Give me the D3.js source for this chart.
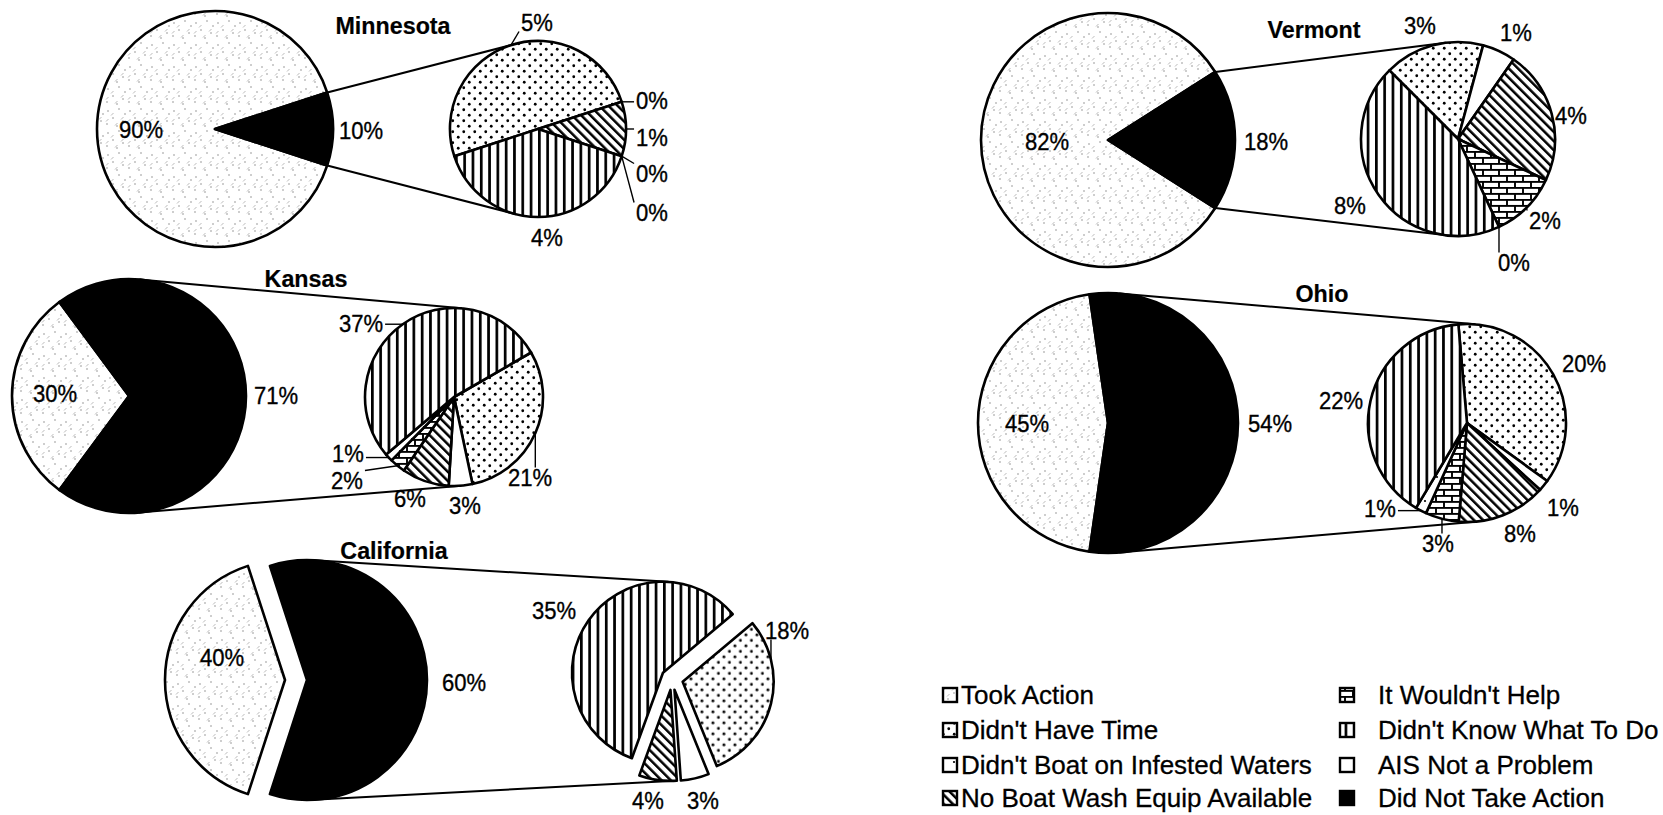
<!DOCTYPE html>
<html><head><meta charset="utf-8">
<script src="https://cdn.jsdelivr.net/npm/d3@7"></script>
<style>
html,body{margin:0;padding:0;background:#fff;}
svg{display:block;font-family:"Liberation Sans", Arial, Helvetica, sans-serif;}
</style></head><body>
<svg id="chart" width="1663" height="815"></svg>
<script>
// Boater responses by state, percent of respondents
const states           = ["Minnesota", "Kansas", "California", "Vermont", "Ohio"];
const tookAction       = [90, 30, 40, 82, 45];
const didNotTakeAction = [10, 71, 60, 18, 54];
// Reasons given by those who did not take action (percent of all respondents)
const didntHaveTime    = [5, 21, 18, 3, 20];
const aisNotProblem    = [0, 3, 3, 1, 1];
const noBoatWash       = [1, 6, 4, 4, 8];
const wouldntHelp      = [0, 2, null, 2, 3];
const didntBoat        = [0, 1, null, 0, 1];
const didntKnow        = [4, 37, 35, 8, 22];

const legendLabels = ["Took Action", "Didn't Have Time", "Didn't Boat on Infested Waters",
  "No Boat Wash Equip Available", "It Wouldn't Help", "Didn't Know What To Do",
  "AIS Not a Problem", "Did Not Take Action"];
const legendKeys = ["took", "time", "boat", "wash", "help", "know", "ais", "not"];

// order of the reasons inside each detail pie
const reasonKeys = ["time", "ais", "wash", "help", "boat", "know"];
const reasonSeries = [didntHaveTime, aisNotProblem, noBoatWash, wouldntHelp, didntBoat, didntKnow];

// ---- layout of each state panel ----
const layout = [
  { c1:[215,129], r1:118, c2:[538,129], r2:88, start2:252, explode:0, title:[393,25],
    lab1:[[-74,0],[146,1]],
    lab2:[[-1,-107,1],[114,-29,1],[114,8,1],[114,44,1],[114,83,1],[9,108,0]] },
  { c1:[129,396], r1:117, c2:[454,397], r2:89, start2:60, explode:0, title:[306,278],
    lab1:[[-74,-3],[147,-1]],
    lab2:[[76,80,1],[11,108,0],[-44,101,0],[-107,83,1],[-106,56,1],[-93,-74,1]] },
  { c1:[296,680], r1:120, c2:[672,679], r2:91, start2:50, explode:11, title:[394,550],
    lab1:[[-74,-23],[168,2]],
    lab2:[[115,-49,1],[31,121,0],[-24,121,0],null,null,[-118,-69,0]] },
  { c1:[1108,140], r1:127, c2:[1458,139], r2:97, start2:315, explode:0, title:[1314,29],
    lab1:[[-61,1],[158,1]],
    lab2:[[-38,-114,0],[58,-107,0],[113,-24,0],[87,81,1],[56,123,1],[-108,66,0]] },
  { c1:[1108,423], r1:130, c2:[1467,423], r2:99, start2:355, explode:0, title:[1322,293],
    lab1:[[-81,0],[162,0]],
    lab2:[[117,-60,0],[96,84,0],[53,110,0],[-29,120,1],[-87,85,1],[-126,-23,0]] }
];
const labelFont = 24, labelSqueeze = 0.92, titleFont = 24, legendFont = 26;
const lineW = 2.6;

const svg = d3.select("#chart");
const defs = svg.append("defs");

// ---- fill patterns ----
function pattern(id, w, h, build, transform) {
  const p = defs.append("pattern").attr("id", id).attr("patternUnits", "userSpaceOnUse")
    .attr("width", w).attr("height", h);
  if (transform) p.attr("patternTransform", transform);
  p.append("rect").attr("width", w).attr("height", h).attr("fill", "#fff");
  build(p);
}
// light speckle
pattern("p-took", 22, 22, p => {
  [[3,4],[14,2],[8,11],[18,14],[2,17],[12,19],[20,7]].forEach(([x,y]) =>
    p.append("circle").attr("cx", x).attr("cy", y).attr("r", 0.7).attr("fill", "#777"));
  [[6,6],[16,10],[10,16],[1,12]].forEach(([x,y]) =>
    p.append("line").attr("x1", x).attr("y1", y + 2.5).attr("x2", x + 2.5).attr("y2", y)
      .attr("stroke", "#aaa").attr("stroke-width", 0.8));
});
// regular dots
pattern("p-time", 11, 11, p => {
  [[2.75,2.75],[8.25,8.25]].forEach(([x,y]) =>
    p.append("circle").attr("cx", x).attr("cy", y).attr("r", 1.4).attr("fill", "#000"));
});
// sparse dots
pattern("p-boat", 12, 12, p => {
  p.append("circle").attr("cx", 6).attr("cy", 6).attr("r", 1.1).attr("fill", "#000");
});
// diagonal hatch
pattern("p-wash", 6.5, 6.5, p => {
  p.append("rect").attr("x", 0).attr("y", 0).attr("width", 2.5).attr("height", 6.5).attr("fill", "#000");
}, "rotate(-45)");
// vertical lines
pattern("p-know", 8.3, 8.3, p => {
  p.append("rect").attr("x", 0).attr("y", 0).attr("width", 2.7).attr("height", 8.3).attr("fill", "#000");
});
// horizontal brick
pattern("p-help", 16, 12, p => {
  const s = p.append("g").attr("stroke", "#000").attr("stroke-width", 1.9);
  s.append("line").attr("x1", 0).attr("y1", 0.9).attr("x2", 16).attr("y2", 0.9);
  s.append("line").attr("x1", 0).attr("y1", 6.9).attr("x2", 16).attr("y2", 6.9);
  s.append("line").attr("x1", 1).attr("y1", 0).attr("x2", 1).attr("y2", 6.9);
  s.append("line").attr("x1", 9).attr("y1", 6.9).attr("x2", 9).attr("y2", 12);
});
const fills = { took:"url(#p-took)", time:"url(#p-time)", boat:"url(#p-boat)", wash:"url(#p-wash)",
  help:"url(#p-help)", know:"url(#p-know)", ais:"#fff", not:"#000" };

const rad = a => a * Math.PI / 180;
const TAU = 2 * Math.PI;
const polar = (c, r, a) => [c[0] + r * Math.sin(a), c[1] - r * Math.cos(a)];
const offsetCenter = (c, d, e) => e ? polar(c, e, (d.startAngle + d.endAngle) / 2) : c;
function covers(d, a) {
  const span = d.endAngle - d.startAngle;
  const rel = (((a - d.startAngle) % TAU) + TAU) % TAU;
  return span > 0 && rel <= span;
}
// common outer tangent of two circles
function outerTangent(C1, R1, C2, R2, upper) {
  const dx = C2[0] - C1[0], dy = C2[1] - C1[1], d = Math.hypot(dx, dy);
  const ux = dx / d, uy = dy / d, px = uy, py = -ux;
  const c = (R1 - R2) / d, s = Math.sqrt(1 - c * c) * (upper ? 1 : -1);
  const nx = c * ux + s * px, ny = c * uy + s * py;
  return [[C1[0] + R1 * nx, C1[1] + R1 * ny], [C2[0] + R2 * nx, C2[1] + R2 * ny]];
}
// tangent from a point to a circle
function pointTangent(P, C, R, upper) {
  const wx = P[0] - C[0], wy = P[1] - C[1], d = Math.hypot(wx, wy);
  const a = Math.acos(R / d), phi = Math.atan2(wy, wx);
  const t = upper ? phi + a : phi - a;
  return [C[0] + R * Math.cos(t), C[1] + R * Math.sin(t)];
}

const gLines = svg.append("g").attr("class", "series-lines");
const gPies = svg.append("g").attr("class", "pies");
const gText = svg.append("g").attr("class", "labels");

function putLabel(x, y, text, size, bold, squeeze) {
  return gText.append("text")
    .attr("transform", `translate(${x},${y}) scale(${squeeze || 1},1)`)
    .attr("dy", "0.36em")
    .attr("text-anchor", "middle").attr("font-size", size)
    .attr("font-weight", bold ? "bold" : "normal").attr("fill", "#000")
    .attr("stroke", "#000").attr("stroke-width", bold ? 0.2 : 0.35)
    .text(text);
}
const pct = v => d3.format(".0f")(v) + "%";

states.forEach((name, i) => {
  const L = layout[i];
  const g = gPies.append("g").attr("class", "state");

  // main pie: took action vs. did not take action, the latter centred at 3 o'clock
  const f = didNotTakeAction[i] / (tookAction[i] + didNotTakeAction[i]);
  const a0 = 90 + 180 * f;
  const pie1 = d3.pie().sort(null).value(d => d.v).startAngle(rad(a0)).endAngle(rad(a0 + 360));
  const arcs1 = pie1([{ k:"took", v:tookAction[i] }, { k:"not", v:didNotTakeAction[i] }]);
  const arc1 = d3.arc().innerRadius(0).outerRadius(L.r1);
  arcs1.forEach(d => {
    const c = offsetCenter(L.c1, d, L.explode);
    g.append("path").attr("d", arc1(d)).attr("transform", `translate(${c[0]},${c[1]})`)
      .attr("fill", fills[d.data.k]).attr("stroke", "#000").attr("stroke-width", lineW)
      .attr("stroke-linejoin", "round");
  });

  // detail pie of the reasons
  const rows = reasonKeys.map((k, j) => ({ k, v: reasonSeries[j][i], j }));
  const pie2 = d3.pie().sort(null).value(d => d.v || 0)
    .startAngle(rad(L.start2)).endAngle(rad(L.start2 + 360));
  const arcs2 = pie2(rows);
  const arc2 = d3.arc().innerRadius(0).outerRadius(L.r2);
  arcs2.forEach(d => {
    if (!d.data.v) return;
    const c = offsetCenter(L.c2, d, L.explode);
    g.append("path").attr("d", arc2(d)).attr("transform", `translate(${c[0]},${c[1]})`)
      .attr("fill", fills[d.data.k]).attr("stroke", "#000").attr("stroke-width", lineW)
      .attr("stroke-linejoin", "round");
  });

  // series lines joining the two pies
  const other = arcs1[1];
  const cOther = offsetCenter(L.c1, other, L.explode);
  const top2 = arcs2.find(d => covers(d, 0));
  const bot2 = arcs2.find(d => covers(d, Math.PI));
  const cTop = offsetCenter(L.c2, top2, L.explode), cBot = offsetCenter(L.c2, bot2, L.explode);
  let segs;
  if (f >= 0.5) {
    segs = [outerTangent(cOther, L.r1, cTop, L.r2, true), outerTangent(cOther, L.r1, cBot, L.r2, false)];
  } else {
    const pUp = polar(cOther, L.r1, other.startAngle), pDn = polar(cOther, L.r1, other.endAngle);
    segs = [[pUp, pointTangent(pUp, cTop, L.r2, true)], [pDn, pointTangent(pDn, cBot, L.r2, false)]];
  }
  segs.forEach(s => gLines.append("line")
    .attr("x1", s[0][0]).attr("y1", s[0][1]).attr("x2", s[1][0]).attr("y2", s[1][1])
    .attr("stroke", "#000").attr("stroke-width", 2));

  // title
  putLabel(L.title[0], L.title[1], name, titleFont, true, 0.97);

  // main pie labels
  arcs1.forEach((d, j) => putLabel(L.c1[0] + L.lab1[j][0], L.c1[1] + L.lab1[j][1], pct(d.data.v), labelFont, false, labelSqueeze));

  // detail pie labels, with leader lines where the label sits away from its slice
  arcs2.forEach((d, j) => {
    const spot = L.lab2[j];
    if (d.data.v == null || !spot) return;
    const lx = L.c2[0] + spot[0], ly = L.c2[1] + spot[1];
    const t = putLabel(lx, ly, pct(d.data.v), labelFont, false, labelSqueeze);
    if (spot[2]) {
      const w = t.node().getComputedTextLength() * labelSqueeze, h = 17;
      const c = offsetCenter(L.c2, d, L.explode);
      const p = polar(c, L.r2, (d.startAngle + d.endAngle) / 2);
      const nx = Math.max(lx - w / 2 - 2, Math.min(lx + w / 2 + 2, p[0]));
      const ny = Math.max(ly - h / 2 - 1, Math.min(ly + h / 2 + 1, p[1]));
      gLines.append("line").attr("x1", p[0]).attr("y1", p[1]).attr("x2", nx).attr("y2", ny)
        .attr("stroke", "#000").attr("stroke-width", 1.4);
    }
  });
});

// ---- legend ----
const legendCols = [{ box: 943, text: 961 }, { box: 1340, text: 1378 }];
const legendRows = [695, 730, 765, 798];
const gLeg = svg.append("g").attr("class", "legend");
legendLabels.forEach((lab, k) => {
  const col = legendCols[Math.floor(k / 4)], y = legendRows[k % 4];
  gLeg.append("rect").attr("x", col.box).attr("y", y - 7).attr("width", 14).attr("height", 14)
    .attr("fill", fills[legendKeys[k]]).attr("stroke", "#000").attr("stroke-width", 2.4);
  gLeg.append("text").attr("x", col.text).attr("y", y).attr("dy", "0.36em")
    .attr("font-size", legendFont).attr("fill", "#000")
    .attr("stroke", "#000").attr("stroke-width", 0.3).text(lab);
});
</script>
</body></html>
